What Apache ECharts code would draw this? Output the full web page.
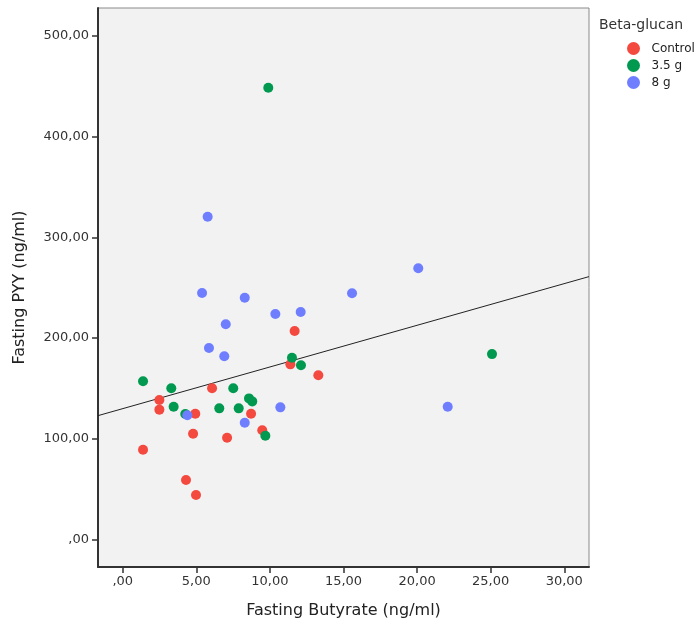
<!DOCTYPE html>
<html>
<head>
<meta charset="utf-8">
<script src="https://cdn.jsdelivr.net/npm/echarts@6/dist/echarts.min.js"></script>
<style>
  html, body { margin: 0; padding: 0; background: #fff; }
  #chart { width: 697px; height: 626px; }
</style>
</head>
<body>
<div id="chart"></div>
<script>
// values: [butyrate, PYY]
const controlPoints = [
  [11.68, 206.9], [11.39, 173.8], [13.29, 162.9], [6.07, 150.0], [2.49, 138.4],
  [2.49, 128.8], [4.93, 124.8], [8.72, 124.8], [4.78, 104.9], [7.09, 100.9],
  [9.48, 108.3], [1.38, 89.0], [4.30, 58.9], [4.98, 44.0]
];
const g35Points = [
  [9.89, 448.6], [11.50, 180.4], [12.11, 172.9], [1.38, 157.0], [3.30, 150.0],
  [7.51, 150.0], [3.46, 131.7], [8.58, 140.0], [8.80, 137.0], [6.56, 130.1],
  [7.88, 130.1], [9.69, 102.9], [25.09, 184.0], [4.25, 124.5]
];
const g8Points = [
  [5.77, 320.5], [5.39, 244.7], [8.29, 240.0], [10.37, 223.8], [12.09, 225.8],
  [15.58, 244.4], [7.00, 213.6], [5.86, 190.0], [6.90, 181.8], [10.71, 131.1],
  [4.39, 123.2], [8.29, 115.8], [22.08, 131.7], [20.08, 269.2]
];
const seriesNames = ['Control', '3.5 g', '8 g'];
const xTicks = [0, 5, 10, 15, 20, 25, 30];
const yTicks = [0, 100, 200, 300, 400, 500];

// total fit line
const fitIntercept = 129.8;
const fitSlope = 4.14;

const xMin = -1.68, xMax = 31.68;
const yMin = -27.5, yMax = 527.8;

function fmt(v) {
  if (v === 0) return ',00';
  return v.toFixed(2).replace('.', ',');
}

const fitLine = [
  [xMin, fitIntercept + fitSlope * xMin],
  [xMax, fitIntercept + fitSlope * xMax]
];

const colors = ['#f4493f', '#00994f', '#6f7eff'];
const font = 'DejaVu Sans';

const chart = echarts.init(document.getElementById('chart'));
chart.setOption({
  animation: false,
  textStyle: { fontFamily: font },
  grid: {
    left: 98, top: 8, right: 108, bottom: 59,
    show: true, backgroundColor: '#f2f2f2', borderColor: '#8a8a8a', borderWidth: 1
  },
  legend: {
    data: seriesNames,
    orient: 'vertical',
    left: 622, top: 37,
    icon: 'circle',
    itemWidth: 26, itemHeight: 13, itemGap: 4,
    textStyle: { fontSize: 12, color: '#222', fontFamily: font }
  },
  graphic: [{
    type: 'text', left: 599, top: 18,
    style: { text: 'Beta-glucan', fontSize: 14, fill: '#333', fontFamily: font }
  }],
  xAxis: {
    type: 'value', min: xMin, max: xMax,
    name: 'Fasting Butyrate (ng/ml)', nameLocation: 'middle', nameGap: 36,
    nameTextStyle: { fontSize: 16, color: '#222', fontFamily: font },
    axisLine: { show: true, onZero: false, lineStyle: { color: '#333', width: 2 } },
    axisTick: { show: true, length: 6, customValues: xTicks, lineStyle: { color: '#333', width: 1.5 } },
    axisLabel: { customValues: xTicks, formatter: fmt, fontSize: 13, color: '#333', margin: 8 },
    splitLine: { show: false }
  },
  yAxis: {
    type: 'value', min: yMin, max: yMax,
    name: 'Fasting PYY (ng/ml)', nameLocation: 'middle', nameGap: 70,
    nameTextStyle: { fontSize: 16, color: '#222', fontFamily: font },
    axisLine: { show: true, onZero: false, lineStyle: { color: '#333', width: 2 } },
    axisTick: { show: true, length: 6, customValues: yTicks, lineStyle: { color: '#333', width: 1.5 } },
    axisLabel: { customValues: yTicks, formatter: fmt, fontSize: 13, color: '#333', margin: 9 },
    splitLine: { show: false }
  },
  series: [
    {
      name: 'fit', type: 'line', data: fitLine, showSymbol: false, silent: true,
      lineStyle: { color: '#222', width: 1 }, z: 1
    },
    { name: seriesNames[0], type: 'scatter', data: controlPoints, symbolSize: 10, itemStyle: { color: colors[0], opacity: 1 }, z: 2 },
    { name: seriesNames[1], type: 'scatter', data: g35Points, symbolSize: 10, itemStyle: { color: colors[1], opacity: 1 }, z: 2 },
    { name: seriesNames[2], type: 'scatter', data: g8Points, symbolSize: 10, itemStyle: { color: colors[2], opacity: 1 }, z: 2 }
  ]
});
window.addEventListener('resize', () => chart.resize());
</script>
</body>
</html>
